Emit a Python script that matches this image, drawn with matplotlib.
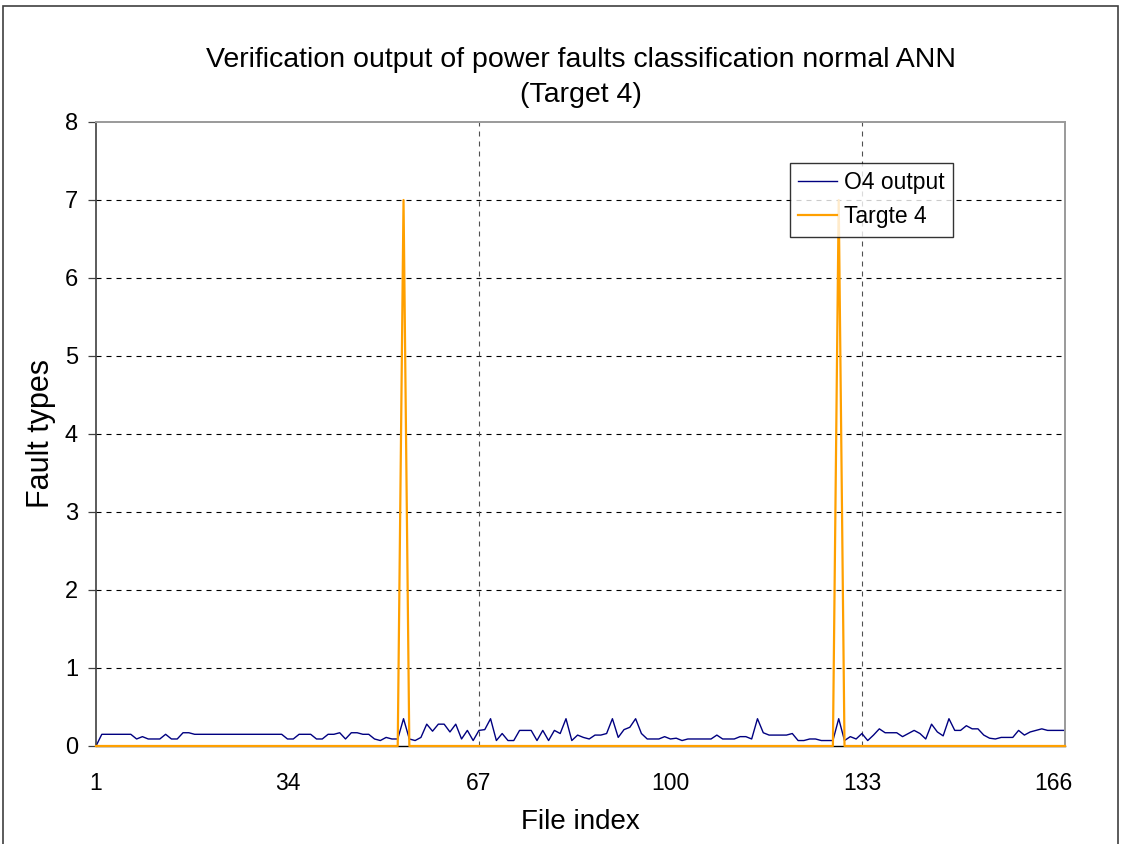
import numpy as np
import matplotlib
matplotlib.use("Agg")
import matplotlib.pyplot as plt
from matplotlib.patches import Rectangle

# ---------------------------------------------------------------------------
# Data
# ---------------------------------------------------------------------------

file_index = np.arange(1, 169)

o4_output = (
    [0.00] + [0.15] * 6
    + [0.09, 0.12, 0.09, 0.09, 0.09, 0.15, 0.09, 0.09, 0.17, 0.17]
    + [0.15] * 16
    + [0.09, 0.09, 0.15, 0.15, 0.15, 0.09, 0.09, 0.15, 0.15, 0.17,
       0.09, 0.17, 0.17, 0.15, 0.15, 0.09, 0.07, 0.11, 0.09, 0.09]
    # 54 ..
    + [0.35, 0.09, 0.07, 0.11, 0.28, 0.19, 0.28, 0.28, 0.18, 0.28,
       0.09, 0.20, 0.07, 0.20, 0.21, 0.35, 0.07, 0.16, 0.07, 0.07,
       0.20, 0.20, 0.20, 0.07, 0.20, 0.07, 0.20, 0.16, 0.35, 0.07,
       0.14, 0.11, 0.09, 0.14, 0.14, 0.16, 0.35, 0.11, 0.21, 0.24,
       0.35, 0.16, 0.09, 0.09, 0.09, 0.12, 0.09, 0.10, 0.07, 0.09,
       0.09, 0.09, 0.09, 0.09, 0.14, 0.09, 0.09]
    # 111 ..
    + [0.09, 0.12, 0.12, 0.09, 0.35, 0.17, 0.14, 0.14, 0.14, 0.14,
       0.16, 0.07, 0.07, 0.09, 0.09, 0.07, 0.07, 0.07, 0.35, 0.07,
       0.12, 0.09, 0.16, 0.07, 0.14, 0.22, 0.17, 0.17, 0.17, 0.12,
       0.16, 0.20, 0.16, 0.09, 0.28, 0.18, 0.13, 0.35, 0.20, 0.20,
       0.26, 0.22, 0.22, 0.14, 0.10, 0.09, 0.11, 0.11, 0.11, 0.20,
       0.14, 0.18, 0.20, 0.22, 0.20, 0.20, 0.20, 0.20]
)

target_4 = np.zeros(len(file_index))
target_peaks = {54: 7, 129: 7}
for idx, val in target_peaks.items():
    target_4[idx - 1] = val

x_labels = [1, 34, 67, 100, 133, 166]
x_major = [1, 67, 133]
y_ticks = list(range(0, 9))

# ---------------------------------------------------------------------------
# Plot
# ---------------------------------------------------------------------------

plt.rcParams["font.family"] = ["Liberation Sans", "DejaVu Sans"]

W, H = 1121, 844
fig = plt.figure(figsize=(W / 100, H / 100), dpi=100)
ax = fig.add_axes([96 / W, 1 - 746 / H, (1065 - 96) / W, (746 - 122) / H])

# outer chart border
fig.patches.append(Rectangle((3 / W, -0.02), (1118 - 3) / W, 1.02 - 6 / H,
                             transform=fig.transFigure, fill=False,
                             edgecolor="#404040", linewidth=1.2))

ax.plot(file_index, o4_output, color="#000080", linewidth=1.0,
        label="O4 output", zorder=2)
ax.plot(file_index, target_4, color="#FFA000", linewidth=1.6,
        label="Targte 4", zorder=3, clip_on=False)

ax.set_xlim(1, 168)
ax.set_ylim(0, 8)

# gridlines
dash = (0, (4.5, 4.5))
for yv in y_ticks[1:-1]:
    ax.axhline(yv, color="black", linewidth=0.8, linestyle=dash, zorder=1)
for xv in x_major[1:]:
    ax.axvline(xv, color="#505050", linewidth=0.8, linestyle=dash, zorder=1)

ax.set_yticks(y_ticks)
ax.tick_params(axis="y", direction="out", length=6, width=0.9,
               color="#404040", labelsize=17, pad=7)
ax.set_xticks(x_labels)
ax.tick_params(axis="x", which="major", length=0, labelsize=16.5, pad=19)
ax.set_xticks(x_major, minor=True)
ax.tick_params(axis="x", which="minor", direction="out", length=6,
               width=0.9, color="black")

for side in ("top", "right"):
    ax.spines[side].set_color("#9a9a9a")
    ax.spines[side].set_linewidth(1.4)
ax.spines["left"].set_color("#404040")
ax.spines["left"].set_linewidth(1.2)
ax.spines["bottom"].set_color("black")
ax.spines["bottom"].set_linewidth(1.0)

ax.set_xlabel("File index", fontsize=20, labelpad=10)
ax.set_ylabel("Fault types", fontsize=22, labelpad=6)

title_x = 0.5 * (96 + 1065) / W
fig.text(title_x, 1 - 60 / H,
         "Verification output of power faults classification normal ANN",
         ha="center", va="center", fontsize=20.5)
fig.text(title_x, 1 - 95 / H, "(Target 4)",
         ha="center", va="center", fontsize=20.5)

leg = ax.legend(loc="upper left",
                bbox_to_anchor=((790 - 96) / (1065 - 96), (746 - 163) / (746 - 122)),
                borderaxespad=0, fontsize=16.5, frameon=True, fancybox=False,
                handlelength=1.7, handletextpad=0.3, labelspacing=0.5,
                borderpad=0.35)
leg.get_frame().set_edgecolor("black")
leg.get_frame().set_linewidth(1.0)
leg.set_zorder(5)

fig.savefig("out.png", dpi=100)
